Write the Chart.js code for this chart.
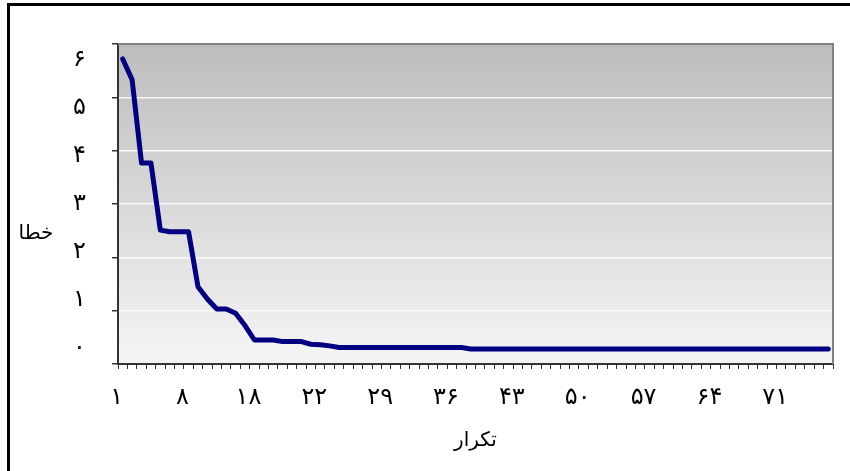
<!DOCTYPE html>
<html>
<head>
<meta charset="utf-8">
<script src="https://cdn.jsdelivr.net/npm/chart.js@4/dist/chart.umd.min.js"></script>
<style>
  html, body { margin: 0; padding: 0; background: #fff; }
  #wrap { width: 850px; height: 471px; }
</style>
</head>
<body>
<div id="wrap"><canvas id="errChart" width="850" height="471"></canvas></div>
<script>
var iterations = [1, 2, 3, 4, 5, 6, 7, 8, 9, 10, 11, 12, 13, 14, 15, 16, 17, 18, 19, 20,
    21, 22, 23, 24, 25, 26, 27, 28, 29, 30, 31, 32, 33, 34, 35, 36, 37, 38, 39, 40,
    41, 42, 43, 44, 45, 46, 47, 48, 49, 50, 51, 52, 53, 54, 55, 56, 57, 58, 59, 60,
    61, 62, 63, 64, 65, 66, 67, 68, 69, 70, 71, 72, 73, 74, 75, 76];
var errorValues = [5.72, 5.33, 3.77, 3.77, 2.51, 2.48, 2.48, 2.48, 1.45, 1.22,
    1.03, 1.03, 0.95, 0.72, 0.45, 0.45, 0.45, 0.42, 0.42, 0.42,
    0.37, 0.36, 0.34, 0.31, 0.31, 0.31, 0.31, 0.31, 0.31, 0.31,
    0.31, 0.31, 0.31, 0.31, 0.31, 0.31, 0.31, 0.28, 0.28, 0.28,
    0.28, 0.28, 0.28, 0.28, 0.28, 0.28, 0.28, 0.28, 0.28, 0.28,
    0.28, 0.28, 0.28, 0.28, 0.28, 0.28, 0.28, 0.28, 0.28, 0.28,
    0.28, 0.28, 0.28, 0.28, 0.28, 0.28, 0.28, 0.28, 0.28, 0.28,
    0.28, 0.28, 0.28, 0.28, 0.28, 0.28];
var xTickLabels = ['۱', '۸', '۱۸', '۲۲', '۲۹', '۳۶', '۴۳', '۵۰', '۵۷', '۶۴', '۷۱'];
var yTickLabels = ['۰', '۱', '۲', '۳', '۴', '۵', '۶'];
var xTitle = 'تکرار';
var yTitle = 'خطا';

var fontFamily = '"DejaVu Sans", sans-serif';

var frame = {
    id: 'frame',
    beforeDraw: function (chart) {
        var ctx = chart.ctx, a = chart.chartArea;
        ctx.save();
        var g = ctx.createLinearGradient(0, a.top, 0, a.bottom);
        g.addColorStop(0, '#bdbdbd');
        g.addColorStop(1, '#f5f5f5');
        ctx.fillStyle = g;
        ctx.fillRect(a.left, a.top, a.right - a.left, a.bottom - a.top);
        ctx.restore();
    },
    afterDraw: function (chart) {
        var ctx = chart.ctx, a = chart.chartArea;
        ctx.save();
        // gray border on top and right of the plot
        ctx.strokeStyle = '#808080';
        ctx.lineWidth = 2;
        ctx.beginPath();
        ctx.moveTo(a.left, a.top);
        ctx.lineTo(a.right, a.top);
        ctx.lineTo(a.right, a.bottom);
        ctx.stroke();
        // outer frame, runs off the right and bottom
        ctx.strokeStyle = '#000';
        ctx.lineWidth = 3;
        ctx.strokeRect(8.5, 4.5, 1000, 1000);
        // y title is horizontal in the original
        ctx.fillStyle = '#000';
        ctx.font = '20px ' + fontFamily;
        ctx.textAlign = 'center';
        ctx.textBaseline = 'middle';
        ctx.fillText(yTitle, 36, 234);
        ctx.restore();
    }
};

new Chart(document.getElementById('errChart'), {
    type: 'line',
    data: {
        labels: iterations,
        datasets: [{
            data: errorValues,
            borderColor: '#000080',
            borderWidth: 5,
            borderCapStyle: 'round',
            borderJoinStyle: 'round',
            pointRadius: 0,
            tension: 0,
            fill: false
        }]
    },
    options: {
        responsive: false,
        animation: false,
        layout: { padding: { top: 44, right: 17, left: 0, bottom: 0 } },
        plugins: { legend: { display: false }, tooltip: { enabled: false } },
        scales: {
            x: {
                offset: true,
                afterFit: function (s) { s.height = 107; },
                grid: {
                    offset: true,
                    drawOnChartArea: false,
                    tickLength: 5,
                    tickColor: '#333'
                },
                border: { color: '#333', width: 2 },
                ticks: {
                    autoSkip: false,
                    maxRotation: 0,
                    padding: 14,
                    labelOffset: -6,
                    color: '#000',
                    font: { family: fontFamily, size: 24 },
                    callback: function (v, i) {
                        return i % 7 === 0 ? xTickLabels[i / 7] : '';
                    }
                },
                title: {
                    display: true,
                    text: xTitle,
                    color: '#000',
                    font: { family: fontFamily, size: 20 },
                    padding: { top: 0, bottom: 18 }
                }
            },
            y: {
                min: 0,
                max: 6,
                weight: 0,
                afterFit: function (s) { s.width = 6; },
                grid: {
                    color: 'rgba(255,255,255,0.85)',
                    lineWidth: 1.5,
                    tickLength: 6,
                    tickColor: '#333',
                    tickWidth: 1.5
                },
                border: { color: '#333', width: 2 },
                ticks: { stepSize: 1, display: false }
            },
            // labels in the original sit on a slightly shorter span than the grid
            yLabels: {
                type: 'linear',
                position: 'left',
                weight: 1,
                min: -1 / 3,
                max: 19 / 3,
                afterFit: function (s) { s.width = 112; },
                afterBuildTicks: function (s) {
                    s.ticks = yTickLabels.map(function (t, i) { return { value: i }; });
                },
                grid: { display: false, drawTicks: false },
                border: { display: false },
                ticks: {
                    padding: 26,
                    color: '#000',
                    font: { family: fontFamily, size: 24 },
                    callback: function (v) { return yTickLabels[v]; }
                }
            }
        }
    },
    plugins: [frame]
});
</script>
</body>
</html>
